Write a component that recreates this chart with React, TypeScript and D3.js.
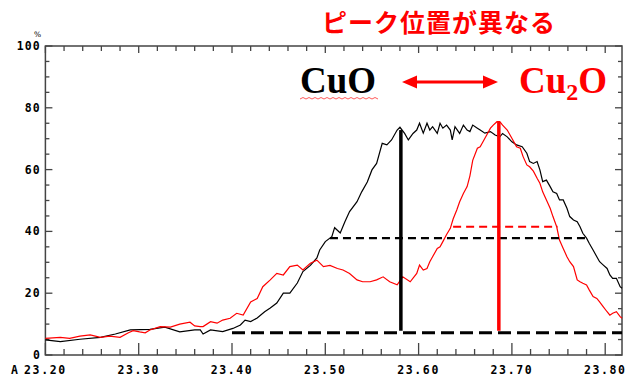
import React, { useEffect, useRef } from "react";
import * as d3 from "d3";

// 2θ (deg) vs intensity (%)
const cuO: [number, number][] = [
  [23.200, 4.9], [23.216, 4.3], [23.237, 5.1], [23.259, 5.7], [23.275, 6.8], [23.291, 8.1],
  [23.312, 8.3], [23.328, 9.0], [23.344, 7.5], [23.360, 8.1], [23.366, 8.1], [23.369, 6.8],
  [23.377, 8.1], [23.390, 7.6], [23.401, 8.6], [23.409, 9.7], [23.414, 11.3], [23.420, 10.8],
  [23.427, 12.0], [23.435, 14.0], [23.441, 15.2], [23.448, 16.8], [23.455, 20.0], [23.462, 20.0],
  [23.470, 23.3], [23.476, 27.0], [23.484, 29.0], [23.491, 31.4], [23.494, 34.0], [23.500, 36.7],
  [23.507, 38.3], [23.510, 41.2], [23.516, 39.5], [23.521, 43.1], [23.526, 46.4], [23.534, 49.6],
  [23.539, 52.8], [23.545, 56.0], [23.550, 59.9], [23.555, 62.0], [23.561, 68.5], [23.566, 68.0],
  [23.571, 69.6], [23.577, 72.8], [23.580, 73.7], [23.585, 71.7], [23.589, 69.6], [23.594, 71.7],
  [23.598, 72.8], [23.601, 75.0], [23.605, 71.8], [23.609, 75.0], [23.612, 72.8], [23.615, 73.9],
  [23.620, 71.7], [23.623, 75.0], [23.626, 73.4], [23.630, 74.4], [23.634, 72.8], [23.636, 69.6],
  [23.639, 73.9], [23.644, 71.7], [23.648, 74.4], [23.652, 72.8], [23.655, 72.3], [23.658, 74.4],
  [23.663, 73.4], [23.666, 72.8], [23.671, 71.8], [23.677, 72.3], [23.682, 71.2], [23.687, 70.6],
  [23.690, 71.7], [23.695, 70.6], [23.700, 69.0], [23.705, 68.0], [23.711, 67.4], [23.716, 65.3],
  [23.719, 62.6], [23.723, 62.0], [23.727, 62.6], [23.730, 59.9], [23.733, 56.1], [23.737, 56.6],
  [23.741, 54.5], [23.744, 52.8], [23.748, 52.3], [23.751, 50.2], [23.755, 50.2], [23.759, 47.5],
  [23.762, 44.8], [23.766, 43.7], [23.770, 43.1], [23.773, 41.5], [23.776, 39.4], [23.780, 37.8],
  [23.783, 36.1], [23.787, 34.0], [23.791, 31.8], [23.794, 30.2], [23.798, 29.1], [23.802, 28.0],
  [23.805, 25.9], [23.808, 24.8], [23.812, 24.8], [23.816, 22.1], [23.818, 21.6],
];

const cu2O: [number, number][] = [
  [23.200, 5.4], [23.216, 5.7], [23.226, 5.4], [23.237, 6.1], [23.248, 6.5], [23.259, 5.7],
  [23.269, 6.1], [23.280, 5.7], [23.289, 7.2], [23.294, 7.9], [23.301, 7.5], [23.307, 7.2],
  [23.312, 8.1], [23.323, 9.2], [23.334, 9.0], [23.344, 10.0], [23.355, 10.6], [23.360, 9.4],
  [23.366, 9.2], [23.369, 9.2], [23.377, 10.8], [23.384, 10.3], [23.390, 11.3], [23.398, 11.9],
  [23.405, 13.5], [23.412, 12.9], [23.420, 17.2], [23.427, 18.3], [23.433, 22.1], [23.441, 24.3],
  [23.448, 26.4], [23.455, 25.9], [23.462, 28.6], [23.470, 29.1], [23.476, 27.5], [23.484, 29.7],
  [23.491, 30.7], [23.498, 28.6], [23.505, 29.0], [23.513, 28.0], [23.519, 27.5], [23.526, 26.4],
  [23.534, 24.3], [23.540, 23.7], [23.548, 23.7], [23.555, 24.3], [23.562, 25.3], [23.569, 23.7],
  [23.577, 22.7], [23.583, 25.3], [23.591, 23.7], [23.598, 26.4], [23.601, 29.1], [23.605, 27.5],
  [23.609, 28.0], [23.612, 30.2], [23.615, 31.8], [23.620, 34.5], [23.623, 35.0], [23.626, 36.7],
  [23.630, 39.0], [23.634, 41.0], [23.637, 44.0], [23.641, 47.0], [23.644, 49.6], [23.648, 52.3],
  [23.652, 54.5], [23.655, 58.0], [23.658, 63.0], [23.663, 66.9], [23.666, 67.4], [23.669, 69.0],
  [23.673, 71.2], [23.677, 73.4], [23.680, 74.4], [23.684, 75.5], [23.687, 75.5], [23.690, 74.4],
  [23.695, 72.8], [23.698, 71.2], [23.701, 69.6], [23.705, 67.4], [23.709, 66.9], [23.712, 64.2],
  [23.716, 61.5], [23.719, 60.9], [23.723, 59.5], [23.727, 57.2], [23.730, 55.6], [23.733, 52.8],
  [23.737, 50.2], [23.741, 47.5], [23.744, 44.8], [23.748, 41.5], [23.751, 37.2], [23.755, 34.5],
  [23.759, 31.8], [23.762, 30.2], [23.766, 28.6], [23.770, 24.3], [23.773, 23.7], [23.776, 23.2],
  [23.780, 22.7], [23.783, 21.0], [23.787, 18.9], [23.791, 18.3], [23.794, 17.2], [23.798, 15.6],
  [23.802, 14.0], [23.805, 12.9], [23.808, 13.5], [23.812, 14.0], [23.816, 12.4], [23.818, 11.9],
];

const xLabels = [23.2, 23.3, 23.4, 23.5, 23.6, 23.7, 23.8];
const yLabels = [0, 20, 40, 60, 80, 100];

// peak positions / levels marked on the figure
const peakCuO = { x: 23.581, top: 72.8 };
const peakCu2O = { x: 23.686, top: 75.4 };
const baseLevel = { y: 7.2, x0: 23.4 };
const halfCuO = { y: 37.8, x0: 23.505, x1: 23.78 };
const halfCu2O = { y: 41.5, x0: 23.637, x1: 23.749 };

export default function App() {
  const ref = useRef<SVGSVGElement>(null);

  useEffect(() => {
    document.body.style.margin = "0";
    const width = 642;
    const height = 390;
    const svg = d3.select(ref.current).attr("width", width).attr("height", height);
    svg.selectAll("*").remove();

    const left = 45.4, right = 622, top = 46, bottom = 355;
    const x = d3.scaleLinear().domain([23.2, 23.818]).range([left, right]);
    const y = d3.scaleLinear().domain([0, 100]).range([bottom, top]);

    const frame = "#444";
    const tickFont = "'DejaVu Sans Mono', monospace";

    // frame
    svg.append("rect")
      .attr("x", left).attr("y", top)
      .attr("width", right - left).attr("height", bottom - top)
      .attr("fill", "none").attr("stroke", frame).attr("stroke-width", 1.5);

    const xMinor = d3.range(0, 31).map((i) => 23.2 + i * 0.02);
    const yMinor = d3.range(0, 21).map((i) => i * 5);

    // ticks on all four sides, pointing inward
    const g = svg.append("g").attr("stroke", frame).attr("stroke-width", 1.3);
    xMinor.forEach((v, i) => {
      const major = i % 5 === 0;
      g.append("line").attr("x1", x(v)).attr("x2", x(v))
        .attr("y1", bottom).attr("y2", bottom - (major ? 12 : 6));
      g.append("line").attr("x1", x(v)).attr("x2", x(v))
        .attr("y1", top).attr("y2", top + (major ? 7 : 5));
    });
    yMinor.forEach((v, i) => {
      const major = i % 4 === 0;
      g.append("line").attr("x1", left).attr("x2", left + (major ? 7 : 4))
        .attr("y1", y(v)).attr("y2", y(v));
      g.append("line").attr("x1", right).attr("x2", right - (major ? 7 : 4))
        .attr("y1", y(v)).attr("y2", y(v));
    });

    // tick labels
    svg.append("g").selectAll("text").data(xLabels).join("text")
      .attr("x", (d) => x(d)).attr("y", 374)
      .attr("text-anchor", "middle")
      .attr("font-family", tickFont).attr("font-weight", "bold")
      .attr("font-size", 11.5).attr("letter-spacing", 1.6)
      .text((d) => d.toFixed(2));
    svg.append("text").attr("x", 11).attr("y", 374)
      .attr("font-family", tickFont).attr("font-weight", "bold").attr("font-size", 11.5)
      .text("A");

    svg.append("g").selectAll("text").data(yLabels).join("text")
      .attr("x", 41).attr("y", (d) => y(d) + 4)
      .attr("text-anchor", "end")
      .attr("font-family", tickFont).attr("font-weight", "bold")
      .attr("font-size", 11.5).attr("letter-spacing", 1.2)
      .text((d) => String(d));
    svg.append("text").attr("x", 34).attr("y", 37)
      .attr("font-family", "'DejaVu Sans', sans-serif").attr("font-size", 7.5)
      .text("%");

    // curves
    const line = d3.line<[number, number]>().x((d) => x(d[0])).y((d) => y(d[1]));
    svg.append("path").datum(cuO).attr("d", line)
      .attr("fill", "none").attr("stroke", "#000").attr("stroke-width", 1.2);
    svg.append("path").datum(cu2O).attr("d", line)
      .attr("fill", "none").attr("stroke", "#ff0000").attr("stroke-width", 1.2);

    // guide lines
    svg.append("line")
      .attr("x1", x(baseLevel.x0)).attr("x2", right)
      .attr("y1", y(baseLevel.y)).attr("y2", y(baseLevel.y))
      .attr("stroke", "#000").attr("stroke-width", 3).attr("stroke-dasharray", "13 6");
    svg.append("line")
      .attr("x1", x(halfCuO.x0)).attr("x2", x(halfCuO.x1))
      .attr("y1", y(halfCuO.y)).attr("y2", y(halfCuO.y))
      .attr("stroke", "#000").attr("stroke-width", 2.2).attr("stroke-dasharray", "8 5");
    svg.append("line")
      .attr("x1", x(halfCu2O.x0)).attr("x2", x(halfCu2O.x1))
      .attr("y1", y(halfCu2O.y)).attr("y2", y(halfCu2O.y))
      .attr("stroke", "#ff0000").attr("stroke-width", 2.2).attr("stroke-dasharray", "8 5");
    svg.append("line")
      .attr("x1", x(peakCuO.x)).attr("x2", x(peakCuO.x))
      .attr("y1", y(peakCuO.top)).attr("y2", y(baseLevel.y) - 2)
      .attr("stroke", "#000").attr("stroke-width", 3.5);
    svg.append("line")
      .attr("x1", x(peakCu2O.x)).attr("x2", x(peakCu2O.x))
      .attr("y1", y(peakCu2O.top)).attr("y2", y(baseLevel.y) - 2)
      .attr("stroke", "#ff0000").attr("stroke-width", 3.5);

    // annotations
    svg.append("text").attr("x", 322).attr("y", 32)
      .attr("font-family", "'Noto Sans CJK JP', sans-serif").attr("font-weight", "bold")
      .attr("font-size", 25).attr("letter-spacing", 1).attr("fill", "#ff0000")
      .text("ピーク位置が異なる");

    const serif = "'Liberation Serif', 'Times New Roman', serif";
    svg.append("text").attr("x", 300).attr("y", 93)
      .attr("font-family", serif).attr("font-weight", "bold").attr("font-size", 37)
      .attr("fill", "#000").text("CuO");
    // spell-check squiggle under CuO
    const zig = d3.range(0, 27).map((i) => [300 + i * 3, i % 2 === 0 ? 99 : 97.5]);
    svg.append("path").attr("d", d3.line()(zig as [number, number][]))
      .attr("fill", "none").attr("stroke", "#ff3030").attr("stroke-width", 0.8);

    const cu2 = svg.append("text").attr("x", 519).attr("y", 93)
      .attr("font-family", serif).attr("font-weight", "bold").attr("font-size", 37)
      .attr("fill", "#ff0000");
    cu2.append("tspan").text("Cu");
    cu2.append("tspan").attr("font-size", 24).attr("dy", 7).text("2");
    cu2.append("tspan").attr("dy", -7).text("O");

    // double arrow
    const ay = 82;
    svg.append("line").attr("x1", 414).attr("x2", 486).attr("y1", ay).attr("y2", ay)
      .attr("stroke", "#ff0000").attr("stroke-width", 3);
    svg.append("path").attr("d", `M402,${ay} L417,${ay - 6.5} L417,${ay + 6.5} Z`).attr("fill", "#ff0000");
    svg.append("path").attr("d", `M498,${ay} L483,${ay - 6.5} L483,${ay + 6.5} Z`).attr("fill", "#ff0000");
  }, []);

  return (
    <svg ref={ref} style={{ position: "absolute", left: 0, top: 0, background: "#fff" }} />
  );
}
